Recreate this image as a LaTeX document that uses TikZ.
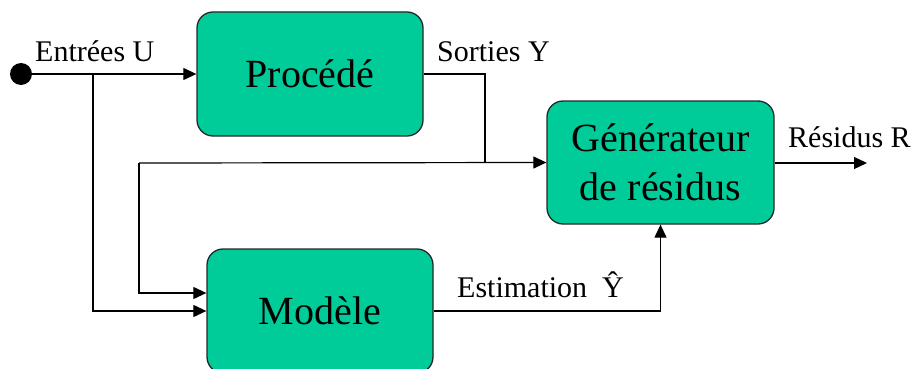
\documentclass[tikz,border=0pt]{standalone}
\usepackage{fontspec}
\setmainfont{Liberation Serif}
\usetikzlibrary{arrows.meta}
\definecolor{boxgreen}{RGB}{0,204,153}
\begin{document}
\begin{tikzpicture}[x=1pt,y=-1pt,
  blockbox/.style={draw=black!85,line width=1.3pt,fill=boxgreen,rounded corners=16pt,
    minimum width=226pt,minimum height=124pt,inner sep=0pt,align=center,
    font=\fontsize{40}{49}\selectfont},
  lbl/.style={anchor=base west,inner sep=0pt,font=\fontsize{30}{34}\selectfont},
  wire/.style={line width=1.2pt,draw=black},
  arr/.style={wire,-{Triangle[length=13pt,width=12pt]}}]
\useasboundingbox (0,0) rectangle (912,369);
\clip (0,0) rectangle (912,369);
\node[blockbox] (proc) at (310,74) {Procédé};
\node[blockbox,minimum width=227pt,minimum height=123pt] (gen) at (660.5,162.5) {Générateur\\de résidus};
\node[blockbox] (mod) at (320,311) {Modèle};
\fill (21,74) circle (11pt) coordinate (in);
\coordinate (b1) at (93,74);
\coordinate (b2) at (485,74);
\coordinate (b3) at (485,163);
\coordinate (b4) at (139,163);
\coordinate (out) at (867,163);
\draw[arr] (in) -- (proc.west);
\draw[wire] (proc.east) -- (b2) -- (b3);
\draw[arr] (b4) -- (gen.west);
\draw[arr] (b4) |- (mod.west |- 0,293);
\draw[arr] (b1) |- (mod.west);
\draw[arr] (mod.east) -| (gen.south);
\draw[arr] (gen.east |- out) -- (out);
\node[lbl] (lu) at (35,61) {Entrées U};
\node[lbl] (ly) at (437,61) {Sorties Y};
\node[lbl] (lr) at (788,147) {Résidus R};
\node[lbl] (le) at (457,297) {Estimation~~Ŷ};
\end{tikzpicture}
\end{document}
